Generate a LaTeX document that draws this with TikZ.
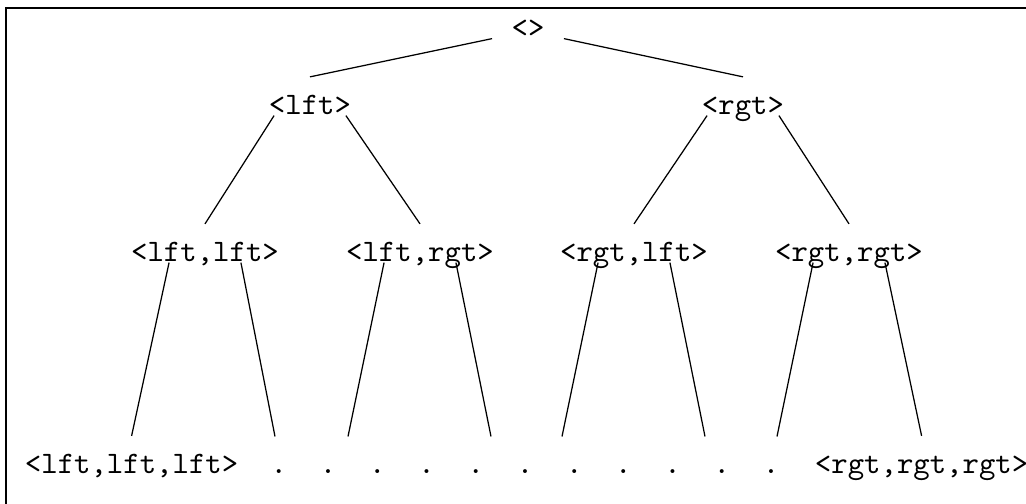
\documentclass[tikz,border=0pt]{standalone}
\begin{document}
\begin{tikzpicture}[x=0.32pt,y=0.32pt,
		tag/.style={font=\ttfamily, inner sep=0pt, anchor=base, text height=12pt, text depth=0pt},
		twig/.style={line width=0.4pt},
		frame/.style={line width=0.8pt}]
			%%%%% START %%%%%
			
			\useasboundingbox (0,0) rectangle (1026,504);
			\draw[frame] (6,-10) -- (6,496) -- (1040,496);
			
			\node[tag] (root) at (528,466) {<>};
			
			\node[tag] (lft) at (310,389) {<lft>};
			\node[tag] (rgt) at (743,389) {<rgt>};
			
			\node[tag] (ll) at (205,242) {<lft,lft>};
			\node[tag] (lr) at (420,242) {<lft,rgt>};
			\node[tag] (rl) at (634,242) {<rgt,lft>};
			\node[tag] (rr) at (849,242) {<rgt,rgt>};
			
			\node[tag] (lll) at (131.6,30) {<lft,lft,lft>};
			\node[tag] (dots) at (525,30) {.\ \ .\ \ .\ \ .\ \ .\ \ .\ \ .\ \ .\ \ .\ \ .\ \ .};
			\node[tag] (rrr) at (921.6,30) {<rgt,rgt,rgt>};
			
			\coordinate (llr) at (275,67.5);
			\coordinate (lrl) at (348,67.5);
			\coordinate (lrr) at (491,67.5);
			\coordinate (rll) at (562,67.5);
			\coordinate (rlr) at (705,67.5);
			\coordinate (rrl) at (777,67.5);
			
			\draw[twig] ([xshift=-11.5pt]root.south) -- (lft.north);
			\draw[twig] ([xshift=11.5pt]root.south) -- (rgt.north);
			
			\draw[twig] ([xshift=-11.5pt]lft.south) -- (ll.north);
			\draw[twig] ([xshift=11.5pt]lft.south) -- (lr.north);
			\draw[twig] ([xshift=-11.5pt]rgt.south) -- (rl.north);
			\draw[twig] ([xshift=11.5pt]rgt.south) -- (rr.north);
			
			\draw[twig] ([xshift=-11.5pt]ll.south) -- (lll.north);
			\draw[twig] ([xshift=11.5pt]ll.south) -- (llr);
			\draw[twig] ([xshift=-11.5pt]lr.south) -- (lrl);
			\draw[twig] ([xshift=11.5pt]lr.south) -- (lrr);
			\draw[twig] ([xshift=-11.5pt]rl.south) -- (rll);
			\draw[twig] ([xshift=11.5pt]rl.south) -- (rlr);
			\draw[twig] ([xshift=-11.5pt]rr.south) -- (rrl);
			\draw[twig] ([xshift=11.5pt]rr.south) -- (rrr.north);
			
			%%%%% END %%%%%
		\end{tikzpicture}
\end{document}
